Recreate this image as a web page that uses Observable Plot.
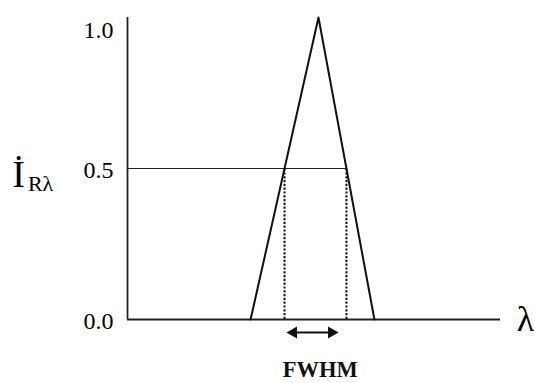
<!DOCTYPE html>
<html>
<head>
<meta charset="utf-8">
<script src="https://cdn.jsdelivr.net/npm/d3@7"></script>
<script src="https://cdn.jsdelivr.net/npm/@observablehq/plot@0.6"></script>
<style>
  html, body { margin: 0; padding: 0; background: #fff; }
  svg text { font-family: "Liberation Serif", "Times New Roman", Times, serif !important; }
</style>
</head>
<body>
<div id="chart"></div>
<script>
// Triangular spectral line profile (wavelength in arbitrary units)
const wavelength = [33, 51.2, 66.2];
const intensity = [0, 1.0, 0];
const halfMax = 0.5;
const fwhmEdges = [42.1, 58.7];
const arrowSpan = [43.7, 55.5];
const arrowY = -0.043;
const yTicksLow = [0, 0.5];
const yTicksHigh = [1.0];
const xAxisEnd = 100;

const profile = wavelength.map((w, i) => ({w, v: intensity[i]}));
const serif = "'Liberation Serif', 'Times New Roman', Times, serif";

const plot = Plot.plot({
  width: 534,
  height: 383,
  marginLeft: 127,
  marginRight: 34,
  marginTop: 17,
  marginBottom: 64,
  x: {domain: [0, xAxisEnd], axis: null},
  y: {domain: [0, 1], axis: null},
  style: {fontFamily: serif, background: "white"},
  marks: [
    // axes
    Plot.ruleX([0], {y1: 0, y2: 1, stroke: "#222", strokeWidth: 1.8}),
    Plot.ruleY([0], {x1: 0, x2: xAxisEnd, stroke: "#222", strokeWidth: 1.8}),
    Plot.axisY(yTicksLow, {label: null, tickSize: 0, tickPadding: 14, fontSize: 24, tickFormat: d3.format(".1f"), fill: "#000", dy: 1.5}),
    Plot.axisY(yTicksHigh, {label: null, tickSize: 0, tickPadding: 14, fontSize: 24, tickFormat: d3.format(".1f"), fill: "#000", dy: 13}),
    // half max line
    Plot.ruleY([halfMax], {x1: 0, x2: fwhmEdges[1], stroke: "#222", strokeWidth: 1}),
    // dashed drops
    Plot.ruleX(fwhmEdges, {y1: 0, y2: halfMax, stroke: "#111", strokeWidth: 2, strokeDasharray: "2.2,1.6"}),
    // profile
    Plot.line(profile, {x: "w", y: "v", stroke: "#111", strokeWidth: 2}),
    // double arrow
    Plot.link([{x1: arrowSpan[0] + 1.5, x2: arrowSpan[1] - 1.5}], {x1: "x1", x2: "x2", y1: arrowY, y2: arrowY, stroke: "#111", strokeWidth: 2}),
    Plot.dot([arrowSpan[0]], {x: d => d, y: arrowY, symbol: "triangle", r: 4.5, rotate: -90, fill: "#111", stroke: null, dx: 3}),
    Plot.dot([arrowSpan[1]], {x: d => d, y: arrowY, symbol: "triangle", r: 4.5, rotate: 90, fill: "#111", stroke: null, dx: -3}),
    // labels
    Plot.text(["FWHM"], {x: 51.7, y: -0.165, text: d => d, fontSize: 22.5, fontWeight: "bold", fill: "#111", lineAnchor: "middle"}),
    Plot.text(["λ"], {x: 106.7, y: 0, text: d => d, fontSize: 36, fill: "#000", lineAnchor: "middle"}),
    Plot.text(["İ"], {x: -29.2, y: 0.48, text: d => d, fontSize: 38, fill: "#000", lineAnchor: "middle"}),
    Plot.text(["Rλ"], {x: -23.3, y: 0.448, text: d => d, fontSize: 22, fill: "#000", lineAnchor: "middle"})
  ]
});
document.getElementById("chart").appendChild(plot);
</script>
</body>
</html>
